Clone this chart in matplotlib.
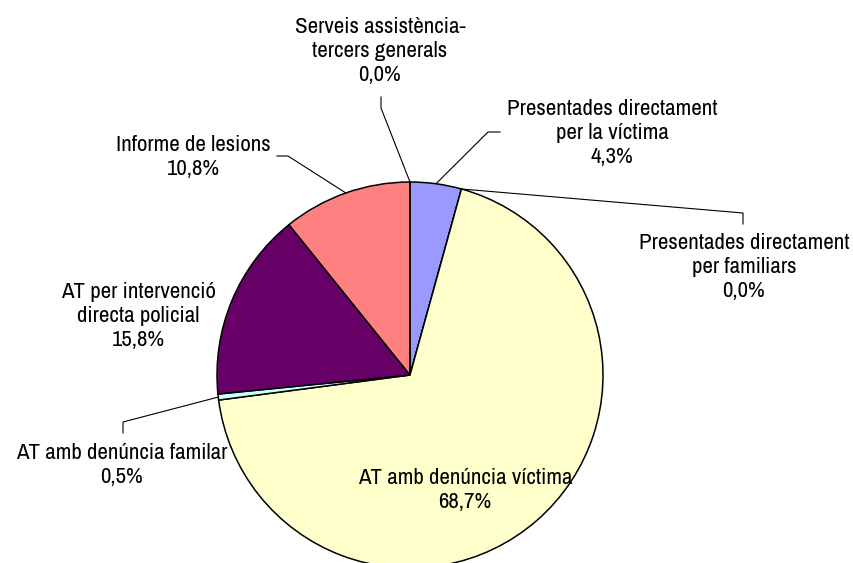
import numpy as np
import matplotlib
matplotlib.use("Agg")
import matplotlib.pyplot as plt

# Dades del gràfic (percentatges)
categories = [
    "Presentades directament\nper la víctima",
    "Presentades directament\nper familiars",
    "AT amb denúncia víctima",
    "AT amb denúncia familar",
    "AT per intervenció\ndirecta policial",
    "Informe de lesions",
    "Serveis assistència-\ntercers generals",
]
valors = [4.3, 0.0, 68.7, 0.5, 15.8, 10.8, 0.0]
etiquetes_pct = ["4,3%", "0,0%", "68,7%", "0,5%", "15,8%", "10,8%", "0,0%"]
colors = ["#9999FF", "#FFFFFF", "#FFFFCC", "#CCFFFF", "#660066", "#FF8080", "#FFFFFF"]

plt.rcParams['font.family'] = ['Archivo Narrow', 'Liberation Sans', 'DejaVu Sans']

W, H = 854, 563
fig = plt.figure(figsize=(W / 100, H / 100), dpi=100)
ax = fig.add_axes([0, 0, 1, 1])

cx, cy, r = 410, H - 375, 193
wedges, _ = ax.pie(valors, colors=colors, startangle=90, counterclock=False,
                   center=(cx, cy), radius=r,
                   wedgeprops=dict(edgecolor="black", linewidth=1.1))
ax.set_xlim(0, W)
ax.set_ylim(0, H)
ax.set_aspect('equal')
ax.axis('off')

# posicions de les etiquetes (px, y cap avall) i colze de la línia guia
pos_text = [(612, 133), (744, 267), (465, 490), (122, 465), (138, 316), (193, 157), (380, 51)]
colzes = [
    [(488, 132), (500, 132)],
    [(743, 213), (743, 224)],
    None,
    [(123, 422), (123, 433)],
    None,
    [(288, 156), (277, 156)],
    [(381, 108), (381, 97)],
]

for w, cat, pct, (tx, ty), colze in zip(wedges, categories, etiquetes_pct, pos_text, colzes):
    ax.text(tx, H - ty, cat + "\n" + pct, ha="center", va="center",
            multialignment="center", fontsize=16.5, fontweight=500,
            color="black", linespacing=1.22)
    if colze is not None:
        ang = np.deg2rad((w.theta1 + w.theta2) / 2)
        xs = [cx + r * np.cos(ang)] + [p[0] for p in colze]
        ys = [cy + r * np.sin(ang)] + [H - p[1] for p in colze]
        ax.plot(xs, ys, color="black", linewidth=0.8)

fig.savefig("out.png", dpi=100)
